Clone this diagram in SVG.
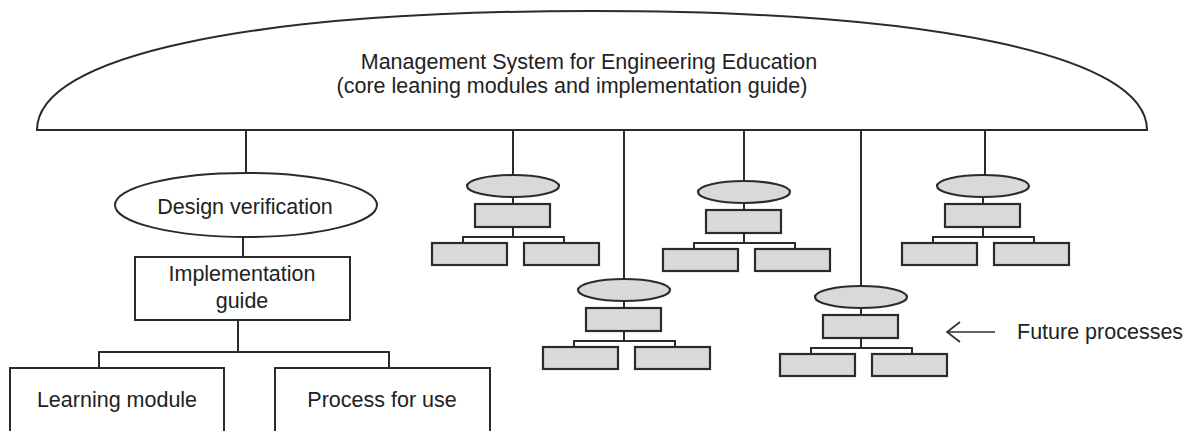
<svg xmlns="http://www.w3.org/2000/svg" width="1199" height="431" viewBox="0 0 1199 431">
  <style>
    .ln { fill: none; stroke: #2b2b2b; stroke-width: 2; }
    .box { fill: #ffffff; stroke: #2b2b2b; stroke-width: 2; }
    .mini { fill: #d9d9d9; stroke: #2b2b2b; stroke-width: 2.2; }
    .lbl { font-family: "Liberation Sans", Arial, sans-serif; font-size: 21.5px; fill: #222222; text-anchor: middle; }
    .note { font-family: "Liberation Sans", Arial, sans-serif; font-size: 21.5px; fill: #222222; }
  </style>
  <defs>
    <!-- one small grey process tree; origin = stem x, top of its ellipse -->
    <g id="miniTree">
      <ellipse class="mini" cx="0" cy="11" rx="46" ry="11"/>
      <line class="ln" x1="0" y1="22" x2="0" y2="29"/>
      <rect class="mini" x="-38" y="29" width="75" height="23"/>
      <polyline class="ln" points="0,52 0,62"/>
      <polyline class="ln" points="-50,68 -50,62 51,62 51,68"/>
      <rect class="mini" x="-81" y="68" width="75" height="22"/>
      <rect class="mini" x="11" y="68" width="75" height="22"/>
    </g>
  </defs>

  <rect width="1199" height="431" fill="#ffffff"/>

  <!-- top dome: the management system -->
  <g id="system">
    <path class="box" d="M37,130 C37,56 248,11 592,11 C936,11 1147,56 1147,130 Z"/>
    <text class="lbl" x="589" y="69">Management System for Engineering Education</text>
    <text class="lbl" x="572" y="93">(core leaning modules and implementation guide)</text>
  </g>

  <!-- connectors -->
  <g id="connectors">
    <line class="ln" x1="246" y1="130" x2="246" y2="173"/>
    <line class="ln" x1="243" y1="237" x2="243" y2="257"/>
    <line class="ln" x1="238" y1="320" x2="238" y2="352"/>
    <polyline class="ln" points="99,368 99,352 389,352 389,368"/>
    <line class="ln" x1="513" y1="130" x2="513" y2="175"/>
    <line class="ln" x1="624" y1="130" x2="624" y2="279"/>
    <line class="ln" x1="744" y1="130" x2="744" y2="181"/>
    <line class="ln" x1="861" y1="130" x2="861" y2="286"/>
    <line class="ln" x1="985" y1="130" x2="985" y2="175"/>
  </g>

  <!-- worked example branch -->
  <g id="design-verification">
    <ellipse class="box" cx="246" cy="205" rx="131" ry="32"/>
    <text class="lbl" x="245" y="214">Design verification</text>
  </g>
  <g id="implementation-guide">
    <rect class="box" x="135" y="257" width="215" height="63"/>
    <text class="lbl" x="242" y="281">Implementation</text>
    <text class="lbl" x="242" y="308">guide</text>
  </g>
  <g id="learning-module">
    <rect class="box" x="10" y="368" width="214" height="80"/>
    <text class="lbl" x="117" y="407">Learning module</text>
  </g>
  <g id="process-for-use">
    <rect class="box" x="275" y="368" width="215" height="80"/>
    <text class="lbl" x="382" y="407">Process for use</text>
  </g>

  <!-- future process trees -->
  <g id="future-1"><use href="#miniTree" transform="translate(513,175)"/></g>
  <g id="future-2"><use href="#miniTree" transform="translate(624,279)"/></g>
  <g id="future-3"><use href="#miniTree" transform="translate(744,181)"/></g>
  <g id="future-4"><use href="#miniTree" transform="translate(861,286)"/></g>
  <g id="future-5"><use href="#miniTree" transform="translate(983,175)"/></g>

  <!-- annotation -->
  <g id="future-note">
    <line x1="947" y1="332" x2="995" y2="332" stroke="#2b2b2b" stroke-width="1.6"/>
    <polyline points="960,322 947,332 960,342" fill="none" stroke="#2b2b2b" stroke-width="1.6"/>
    <text class="note" x="1017" y="339">Future processes</text>
  </g>
</svg>
